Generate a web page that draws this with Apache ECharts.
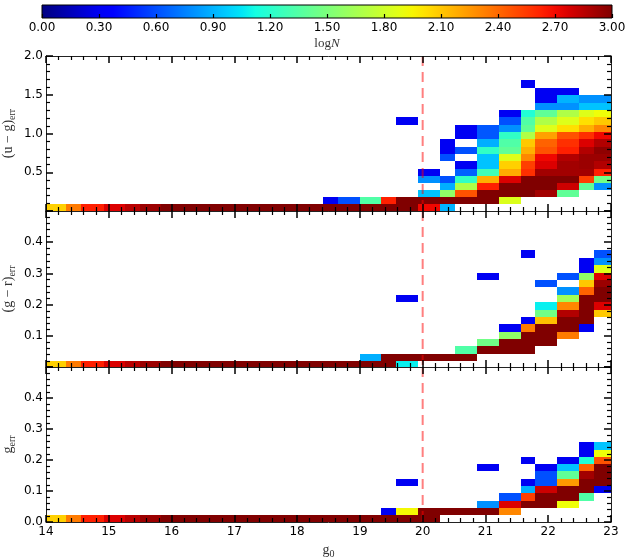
<!DOCTYPE html>
<html>
<head>
<meta charset="utf-8">
<script src="https://cdn.jsdelivr.net/npm/echarts@6/dist/echarts.min.js"></script>
<style>
  html, body { margin: 0; padding: 0; background: #fff; }
  #chart { width: 626px; height: 559px; }
</style>
</head>
<body>
<div id="chart"></div>
<script>
// ---- binning (edges of the 2D histogram bins) ----
const gEdges = [14.000, 14.322, 14.561, 14.917, 15.263, 15.491, 15.837, 16.192, 16.543, 16.776,
                17.127, 17.476, 17.710, 18.061, 18.412, 18.652, 18.998, 19.344, 19.572, 19.928,
                20.274, 20.513, 20.859, 21.219, 21.565, 21.788, 22.144, 22.495, 22.729, 23.050];
const ugEdges = [0, 0.084, 0.179, 0.273, 0.363, 0.455, 0.548, 0.642, 0.736, 0.831,
                 0.923, 1.019, 1.114, 1.208, 1.302, 1.398, 1.493, 1.587, 1.684];
const grEdges = [0, 0.0187, 0.0425, 0.066, 0.0895, 0.113, 0.1368, 0.160, 0.184,
                 0.2077, 0.2315, 0.2553, 0.2788, 0.3026, 0.3261, 0.350, 0.3735];
const gErrEdges = [0, 0.022, 0.0455, 0.069, 0.0925, 0.116, 0.1395, 0.163, 0.1865, 0.21, 0.2335, 0.257];

// ---- logN per occupied bin: [g0 bin, error bin, logN] ----
const ugCells = [
  [0,0,2.07],[1,0,2.34],[2,0,2.63],[3,0,2.76],[4,0,2.85],[5,0,2.93],[6,0,3],[7,0,3],[8,0,3],[9,0,3],
  [10,0,3],[11,0,3],[12,0,3],[13,0,3],[14,0,3],[15,0,3],[16,0,3],[17,0,3],[18,0,3],[19,0,2.71],[20,0,0.9],
  [14,1,0.3],[15,1,0.61],[16,1,1.34],[17,1,2.63],[18,1,3],[19,1,3],[20,1,3],[21,1,3],[22,1,3],[23,1,1.85],
  [19,2,0.95],[20,2,1.575],[21,2,2.47],[22,2,3],[23,2,3],[24,2,3],[25,2,2.91],[26,2,1.4],
  [20,3,0.89],[21,3,1.69],[22,3,2.63],[23,3,3],[24,3,3],[25,3,3],[26,3,2.8],[27,3,1.4],[28,3,0.8],
  [19,4,0.8],[20,4,0.61],[21,4,1.23],[22,4,2.17],[23,4,2.76],[24,4,3],[25,4,3],[26,4,3],[27,4,2.53],[28,4,1.46],
  [19,5,0.3],[21,5,0.66],[22,5,1.28],[23,5,2.19],[24,5,2.58],[25,5,2.91],[26,5,2.91],[27,5,2.91],[28,5,2.63],
  [21,6,0.3],[22,6,0.95],[23,6,2.07],[24,6,2.53],[25,6,2.76],[26,6,2.91],[27,6,2.93],[28,6,2.87],
  [20,7,0.61],[22,7,0.95],[23,7,1.86],[24,7,2.3],[25,7,2.71],[26,7,2.87],[27,7,2.93],[28,7,2.93],
  [20,8,0.3],[21,8,0.61],[22,8,1.23],[23,8,1.4],[24,8,2.17],[25,8,2.47],[26,8,2.63],[27,8,2.87],[28,8,2.96],
  [20,9,0.3],[22,9,0.89],[23,9,1.34],[24,9,2.09],[25,9,2.42],[26,9,2.58],[27,9,2.76],[28,9,2.87],
  [21,10,0.3],[22,10,0.63],[23,10,1.23],[24,10,1.69],[25,10,2.22],[26,10,2.47],[27,10,2.58],[28,10,2.71],
  [21,11,0.3],[22,11,0.63],[23,11,0.8],[24,11,1.4],[25,11,1.86],[26,11,2.02],[27,11,2.17],[28,11,2.3],
  [18,12,0.3],[23,12,0.61],[24,12,1.34],[25,12,1.69],[26,12,1.86],[27,12,2.02],[28,12,2.09],
  [23,13,0.3],[24,13,1.17],[25,13,1.4],[26,13,1.69],[27,13,1.86],[28,13,1.92],
  [25,14,0.8],[26,14,0.8],[27,14,0.95],[28,14,0.95],
  [25,15,0.3],[26,15,0.9],[27,15,0.8],[28,15,0.8],
  [25,16,0.3],[26,16,0.3],
  [24,17,0.3]
];
const grCells = [
  [0,0,2.07],[1,0,2.34],[2,0,2.63],[3,0,2.76],[4,0,2.85],[5,0,2.93],[6,0,3],[7,0,3],[8,0,3],[9,0,3],
  [10,0,3],[11,0,3],[12,0,3],[13,0,3],[14,0,3],[15,0,3],[16,0,3],[17,0,3],[18,0,1.08],
  [16,1,0.89],[17,1,3],[18,1,3],[19,1,3],[20,1,3],[21,1,3],
  [21,2,1.34],[22,2,3],[23,2,3],[24,2,3],
  [22,3,1.46],[23,3,3],[24,3,3],[25,3,3],
  [23,4,1.575],[24,4,3],[25,4,3],[26,4,2.34],
  [23,5,0.3],[24,5,2.34],[25,5,3],[26,5,3],[27,5,0.3],
  [24,6,0.3],[25,6,2.12],[26,6,3],[27,6,3],
  [25,7,1.46],[26,7,2.87],[27,7,3],[28,7,2.09],
  [25,8,1.08],[26,8,2.3],[27,8,3],[28,8,2.76],
  [18,9,0.3],[26,9,1.635],[27,9,3],[28,9,3],
  [26,10,0.8],[27,10,2.42],[28,10,3],
  [25,11,0.61],[27,11,2.09],[28,11,2.93],
  [22,12,0.3],[26,12,0.61],[27,12,1.575],[28,12,2.76],
  [27,13,0.3],[28,13,1.86],
  [27,14,0.3],[28,14,0.8],
  [24,15,0.3],[28,15,0.61]
];
const gErrCells = [
  [0,0,2.07],[1,0,2.34],[2,0,2.63],[3,0,2.76],[4,0,2.85],[5,0,2.93],[6,0,3],[7,0,3],[8,0,3],[9,0,3],
  [10,0,3],[11,0,3],[12,0,3],[13,0,3],[14,0,3],[15,0,3],[16,0,3],[17,0,3],[18,0,3],[19,0,3],
  [17,1,0.3],[18,1,1.94],[19,1,3],[20,1,3],[21,1,3],[22,1,3],[23,1,2.3],
  [22,2,0.8],[23,2,2.76],[24,2,3],[25,2,3],[26,2,1.92],
  [23,3,0.61],[24,3,2.53],[25,3,3],[26,3,3],[27,3,1.34],
  [24,4,0.89],[25,4,2.8],[26,4,3],[27,4,3],[28,4,0.3],
  [18,5,0.3],[24,5,0.3],[25,5,0.61],[26,5,2.24],[27,5,3],[28,5,3],
  [25,6,0.61],[26,6,1.4],[27,6,2.91],[28,6,3],
  [22,7,0.3],[25,7,0.3],[26,7,0.95],[27,7,2.42],[28,7,3],
  [24,8,0.3],[26,8,0.3],[27,8,1.17],[28,8,2.47],
  [27,9,0.3],[28,9,1.92],
  [27,10,0.3],[28,10,0.95]
];

// ---- axis ranges / reference values ----
const gRange = [14, 23];
const logNRange = [0, 3];
const gLimit = 20;
const ugMax = 2.0, grMax = 0.5, gErrMax = 0.5;

// ---- jet colormap ----
const jetR = [[0,0],[0.35,0],[0.66,1],[0.89,1],[1,0.5]];
const jetG = [[0,0],[0.125,0],[0.375,1],[0.64,1],[0.91,0],[1,0]];
const jetB = [[0,0.5],[0.11,1],[0.34,1],[0.65,0],[1,0]];
function seg(t, pts) {
  for (let i = 1; i < pts.length; i++) {
    if (t <= pts[i][0]) {
      const a = pts[i - 1], b = pts[i];
      return a[1] + (b[1] - a[1]) * (t - a[0]) / (b[0] - a[0]);
    }
  }
  return pts[pts.length - 1][1];
}
function jet(t) {
  t = Math.max(0, Math.min(1, t));
  const c = v => Math.round(255 * v);
  return 'rgb(' + c(seg(t, jetR)) + ',' + c(seg(t, jetG)) + ',' + c(seg(t, jetB)) + ')';
}
function logNColor(v) { return jet((v - logNRange[0]) / (logNRange[1] - logNRange[0])); }

function binRects(cells, yEdges) {
  return cells.map(([i, j, v]) => [gEdges[i], yEdges[j], gEdges[i + 1], yEdges[j + 1], v]);
}

function renderBin(params, api) {
  const p0 = api.coord([api.value(0), api.value(1)]);
  const p1 = api.coord([api.value(2), api.value(3)]);
  const x0 = Math.round(Math.min(p0[0], p1[0])), x1 = Math.round(Math.max(p0[0], p1[0]));
  const y0 = Math.round(Math.min(p0[1], p1[1])), y1 = Math.round(Math.max(p0[1], p1[1]));
  const cs = params.coordSys;
  const shape = echarts.graphic.clipRectByRect(
    { x: x0, y: y0, width: x1 - x0, height: y1 - y0 },
    { x: cs.x, y: cs.y, width: cs.width, height: cs.height });
  if (!shape) return;
  return { type: 'rect', shape: shape, style: { fill: logNColor(api.value(4)) } };
}

const TICK_FONT = 'DejaVu Sans';
const SERIF = 'Liberation Serif';
const frameLine = { color: '#222', width: 1 };
const tickLine = { color: '#000', width: 1.5 };
const minorLine = { color: '#000', width: 1.2 };

function gAxis(grid, pos, withLabels) {
  return {
    type: 'value', gridIndex: grid, position: pos, min: gRange[0], max: gRange[1], interval: 1, z: 5,
    axisLine: { show: true, onZero: false, lineStyle: frameLine },
    axisTick: { show: true, inside: true, length: 7, lineStyle: tickLine },
    minorTick: { show: true, splitNumber: 5, length: 4, lineStyle: minorLine },
    splitLine: { show: false }, minorSplitLine: { show: false },
    axisLabel: { show: withLabels, margin: 4, fontFamily: TICK_FONT, fontSize: 12, color: '#000' },
    name: withLabels ? '{t|g}{s|0}' : '',
    nameLocation: 'middle', nameGap: 19,
    nameTextStyle: { rich: {
      t: { fontFamily: SERIF, fontSize: 14, color: '#333', lineHeight: 18 },
      s: { fontFamily: SERIF, fontSize: 10, color: '#333', verticalAlign: 'bottom', lineHeight: 10 }
    } }
  };
}
function errAxis(grid, pos, max, step, name, showMin, showMax) {
  const left = pos === 'left';
  return {
    type: 'value', gridIndex: grid, position: pos, min: 0, max: max, interval: step, z: 5,
    axisLine: { show: true, onZero: false, lineStyle: frameLine },
    axisTick: { show: true, inside: true, length: 7, lineStyle: tickLine },
    minorTick: { show: true, splitNumber: 5, length: 4, lineStyle: minorLine },
    splitLine: { show: false }, minorSplitLine: { show: false },
    axisLabel: { show: left, margin: 3, fontFamily: TICK_FONT, fontSize: 12, color: '#000',
                 showMinLabel: showMin, showMaxLabel: showMax, formatter: v => v.toFixed(1) },
    name: left ? name : '',
    nameLocation: 'middle', nameRotate: 90, nameGap: 29, nameMoveOverlap: false,
    nameTextStyle: { rich: {
      t: { fontFamily: SERIF, fontSize: 14, color: '#333', lineHeight: 18 },
      s: { fontFamily: SERIF, fontSize: 10, color: '#333', verticalAlign: 'bottom', lineHeight: 10 }
    } }
  };
}

function binSeries(idx, cells, edges) {
  return {
    type: 'custom', xAxisIndex: idx, yAxisIndex: idx, z: 2, silent: true,
    renderItem: renderBin, encode: { x: [0, 2], y: [1, 3] },
    data: binRects(cells, edges)
  };
}
function limitSeries(idx, ymax) {
  return {
    type: 'line', xAxisIndex: idx, yAxisIndex: idx, z: 3, silent: true,
    symbol: 'none', animation: false,
    lineStyle: { color: 'rgba(255,0,0,0.5)', width: 2, type: [10, 6] },
    data: [[gLimit, ymax], [gLimit, 0]]
  };
}

const cbStops = [];
for (let k = 0; k <= 40; k++) cbStops.push({ offset: k / 40, color: jet(k / 40) });

const chart = echarts.init(document.getElementById('chart'), null, { renderer: 'canvas' });
chart.setOption({
  animation: false,
  backgroundColor: '#fff',
  grid: [
    { left: 46, right: 15, top: 56, height: 155, outerBoundsMode: 'none', containLabel: false },
    { left: 46, right: 15, top: 211, height: 156, outerBoundsMode: 'none', containLabel: false },
    { left: 46, right: 15, top: 367, height: 155, outerBoundsMode: 'none', containLabel: false },
    { left: 42, top: 5, width: 570, height: 13, outerBoundsMode: 'none', containLabel: false }
  ],
  xAxis: [
    gAxis(0, 'bottom', false), gAxis(0, 'top', false),
    gAxis(1, 'bottom', false), gAxis(1, 'top', false),
    gAxis(2, 'bottom', true),  gAxis(2, 'top', false),
    {
      type: 'value', gridIndex: 3, position: 'bottom', min: logNRange[0], max: logNRange[1], interval: 0.3, z: 5,
      axisLine: { show: false },
      axisTick: { show: true, inside: true, length: 4, lineStyle: { color: '#000', width: 1.2 } },
      splitLine: { show: false },
      axisLabel: { margin: 4, fontFamily: TICK_FONT, fontSize: 12, color: '#000', formatter: v => v.toFixed(2) },
      name: '{t|log}{i|N}', nameLocation: 'middle', nameGap: 19,
      nameTextStyle: { rich: {
        t: { fontFamily: SERIF, fontSize: 13, color: '#333' },
        i: { fontFamily: SERIF, fontSize: 13, color: '#333', fontStyle: 'italic' }
      } }
    }
  ],
  yAxis: [
    errAxis(0, 'left', ugMax, 0.5, '{t|(u − g)}{s|err}', false, true), errAxis(0, 'right', ugMax, 0.5, '', false, true),
    errAxis(1, 'left', grMax, 0.1, '{t|(g − r)}{s|err}', false, false), errAxis(1, 'right', grMax, 0.1, '', false, false),
    errAxis(2, 'left', gErrMax, 0.1, '{t|g}{s|err}', true, false), errAxis(2, 'right', gErrMax, 0.1, '', true, false),
    { type: 'value', gridIndex: 3, min: 0, max: 1, show: false }
  ],
  series: [
    binSeries(0, ugCells, ugEdges),
    binSeries(2, grCells, grEdges),
    binSeries(4, gErrCells, gErrEdges),
    limitSeries(0, ugMax),
    limitSeries(2, grMax),
    limitSeries(4, gErrMax),
    {
      type: 'custom', xAxisIndex: 6, yAxisIndex: 6, z: 2, silent: true,
      encode: { x: [0, 1] },
      data: [[logNRange[0], logNRange[1]]],
      renderItem: function (params, api) {
        const a = api.coord([api.value(0), 0]);
        const b = api.coord([api.value(1), 1]);
        return {
          type: 'rect',
          shape: { x: a[0], y: b[1], width: b[0] - a[0], height: a[1] - b[1] },
          style: {
            fill: new echarts.graphic.LinearGradient(0, 0, 1, 0, cbStops),
            stroke: '#000', lineWidth: 1
          }
        };
      }
    }
  ]
});
</script>
</body>
</html>
